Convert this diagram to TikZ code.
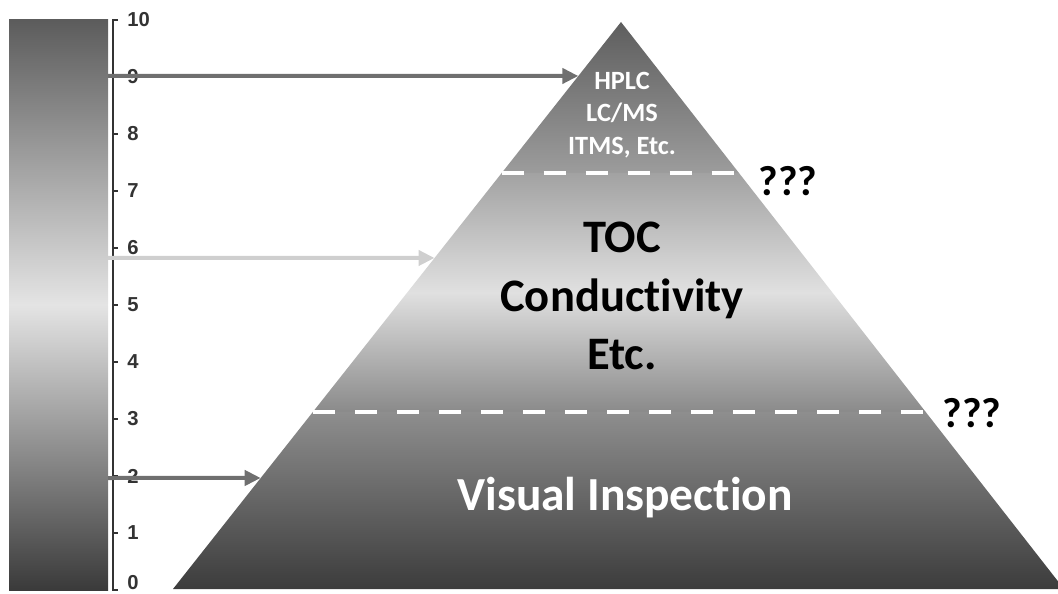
\documentclass[tikz,border=0pt]{standalone}
\usepackage{fontspec}
\setmainfont{Carlito}[Ligatures=CommonOff]
\newfontfamily\numfont{Liberation Sans}
\usetikzlibrary{arrows.meta,calc}
\definecolor{bartop}{HTML}{5C5C5C}
\definecolor{barmid}{HTML}{E4E4E4}
\definecolor{barbot}{HTML}{3A3A3A}
\definecolor{ttop}{HTML}{5E5E5E}
\definecolor{tbot}{HTML}{9C9C9C}
\definecolor{mtop}{HTML}{A2A2A2}
\definecolor{mmid}{HTML}{E0E0E0}
\definecolor{mbot}{HTML}{8A8A8A}
\definecolor{btop}{HTML}{8E8E8E}
\definecolor{bbot}{HTML}{3C3C3C}
\definecolor{darkarrow}{HTML}{6F6F6F}
\definecolor{lightarrow}{HTML}{CFCFCF}
\definecolor{axiscol}{HTML}{333333}
\begin{document}
\begin{tikzpicture}[x=0.02cm,y=-0.02cm,
  scalelabel/.style={font=\numfont\bfseries\fontsize{11.5}{13}\selectfont, text=axiscol, anchor=west, inner sep=0pt},
  whitetext/.style={text=white, align=center, font=\bfseries\fontsize{15}{18.7}\selectfont},
  bigtext/.style={text=black, align=center, font=\bfseries\fontsize{26.5}{33.5}\selectfont},
  basetext/.style={text=white, font=\bfseries\fontsize{27}{32}\selectfont},
  qmark/.style={text=black, font=\bfseries\fontsize{24}{28}\selectfont},
  tierline/.style={white, line width=0.08cm, dash pattern=on 0.44cm off 0.40cm},
  levelarrow/.style={line width=0.08cm, -{Triangle[length=0.32cm,width=0.30cm]}},
]
\useasboundingbox (0,0) rectangle (1058,594);

% scale bar
\shade[top color=bartop, bottom color=barbot, middle color=barmid] (9,20) rectangle (108,590);

% axis
\draw[axiscol, line width=0.04cm] (118,20) -- (113,20) -- (113,590) -- (118,590);
\foreach \i in {1,...,9} {
  \draw[axiscol, line width=0.04cm] (113,{590-57*\i}) -- (118,{590-57*\i});
}
\foreach \i in {1,...,10} {
  \node[scalelabel] (lab\i) at (127,{590-57*\i}) {\i};
}
\node[scalelabel] (lab0) at (127,583) {0};

% pyramid
\coordinate (apex) at (621,22);
\coordinate (bl) at (173,589);
\coordinate (br) at (1064,589);
\coordinate (ul) at ($(apex)!0.2663!(bl)$);
\coordinate (ur) at ($(apex)!0.2663!(br)$);
\coordinate (ml) at ($(apex)!0.6878!(bl)$);
\coordinate (mr) at ($(apex)!0.6878!(br)$);

\shade[top color=ttop, bottom color=tbot] (apex) -- (ur) -- (ul) -- cycle;
\shade[top color=mtop, bottom color=mbot, middle color=mmid] (ul) -- (ur) -- (mr) -- (ml) -- cycle;
\shade[top color=btop, bottom color=bbot] (ml) -- (mr) -- (br) -- (bl) -- cycle;

\draw[tierline] (ul) -- (ur);
\draw[tierline] (ml) -- (mr);

% texts
\node[whitetext] (top) at (622,115) {HPLC\\LC/MS\\ITMS, Etc.};
\node[bigtext] (mid) at (622,296) {TOC\\Conductivity\\Etc.};
\node[basetext] (base) at (625,498) {Visual Inspection};
\node[qmark] (q1) at (788,181) {???};
\node[qmark] (q2) at (972,413) {???};

% arrows
\coordinate (s9) at (108,76);
\coordinate (e9) at ($(apex)!0.0952!(bl)$);
\coordinate (s6) at (108,258);
\coordinate (e6) at ($(apex)!0.4162!(bl)$);
\coordinate (s2) at (108,478);
\coordinate (e2) at ($(apex)!0.8042!(bl)$);
\draw[levelarrow, darkarrow] (s9) -- (e9);
\draw[levelarrow, lightarrow] (s6) -- (e6);
\draw[levelarrow, darkarrow] (s2) -- (e2);
\end{tikzpicture}
\end{document}
